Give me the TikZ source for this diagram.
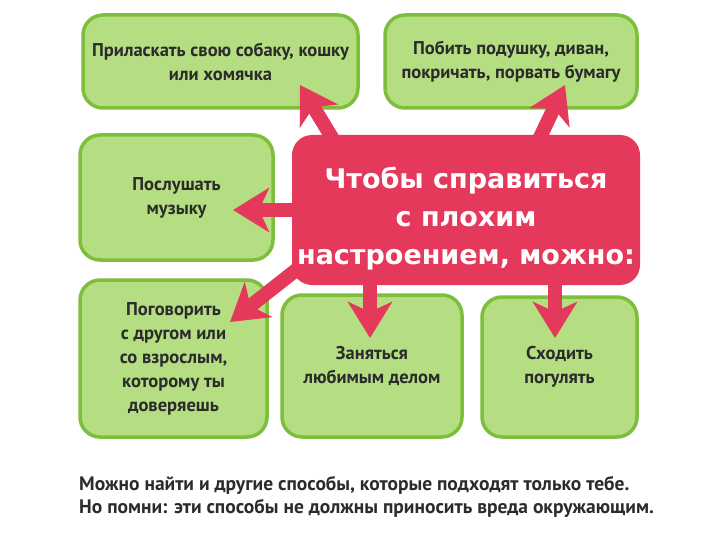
\documentclass[tikz,border=0pt]{standalone}
\usepackage{fontspec}
\setmainfont{PT Sans}
\newfontfamily\headfont{DejaVu Sans}
\usetikzlibrary{arrows.meta}
\definecolor{leaf}{HTML}{B5DE82}
\definecolor{leafrim}{HTML}{7DBF3C}
\definecolor{moodred}{HTML}{E5395C}
\definecolor{ink}{HTML}{2B2B2B}
\tikzset{
	idea/.style={draw=leafrim, line width=3.5pt, fill=leaf, rounded corners=20pt, align=center,
		text=ink, font=\bfseries\fontsize{18.5}{24}\selectfont, inner sep=0pt},
	pointer/.style={draw=moodred, line width=14pt, shorten <=-8pt,
		-{Stealth[length=36pt,width=44pt,inset=10pt]}},
}
\begin{document}
\begin{tikzpicture}[x=1pt,y=-1pt]
	\useasboundingbox (0,0) rectangle (720,540);
	
	% things to do
	\node[idea, minimum width=275pt, minimum height=93pt] (pet) at (220.5,61.5) {Приласкать свою собаку, кошку\\или хомячка};
	\node[idea, minimum width=252pt, minimum height=93pt] (pillow) at (511,61.5) {Побить подушку, диван,\\покричать, порвать бумагу};
	\node[idea, minimum width=193pt, minimum height=125pt] (music) at (176.5,197.5) {Послушать\\музыку};
	\node[idea, minimum width=187pt, minimum height=157pt] (talk) at (173.5,358.5) {Поговорить\\с другом или\\со взрослым,\\которому ты\\доверяешь};
	\node[idea, minimum width=180pt, minimum height=142pt] (hobby) at (372,366) {Заняться\\любимым делом};
	\node[idea, minimum width=155pt, minimum height=140pt] (walk) at (559.5,367) {Сходить\\погулять};
	
	% the middle
	\node[fill=moodred, rounded corners=20pt, minimum width=348pt, minimum height=150pt] (mood) at (466,210) {};
	\node[align=center, text=white, font=\headfont\bfseries\fontsize{27}{38}\selectfont] (moodtext)
		at ([yshift=-9pt]mood.center) {Чтобы справиться\\с плохим\\настроением, можно:};
	
	\coordinate (petTip) at (300,85);
	\coordinate (pillowTip) at (565,85);
	\coordinate (musicTip) at (233,210);
	\coordinate (talkTip) at (230,322);
	\coordinate (hobbyTip) at (370,338);
	\coordinate (walkTip) at (555,338);
	
	\draw[pointer] (mood.151) -- (petTip);
	\draw[pointer] (mood.45) -- (pillowTip);
	\draw[pointer] (mood.west) -- (musicTip);
	\draw[pointer] (mood.200) -- (talkTip);
	\draw[pointer] (mood.south -| hobbyTip) -- (hobbyTip);
	\draw[pointer] (mood.south -| walkTip) -- (walkTip);
	
	\node[anchor=north west, align=left, inner sep=0pt, text=ink,
		font=\bfseries\fontsize{19.5}{23}\selectfont] (note) at (79,476)
		{Можно найти и другие способы, которые подходят только тебе.\\Но помни: эти способы не должны приносить вреда окружающим.};
\end{tikzpicture}
\end{document}
